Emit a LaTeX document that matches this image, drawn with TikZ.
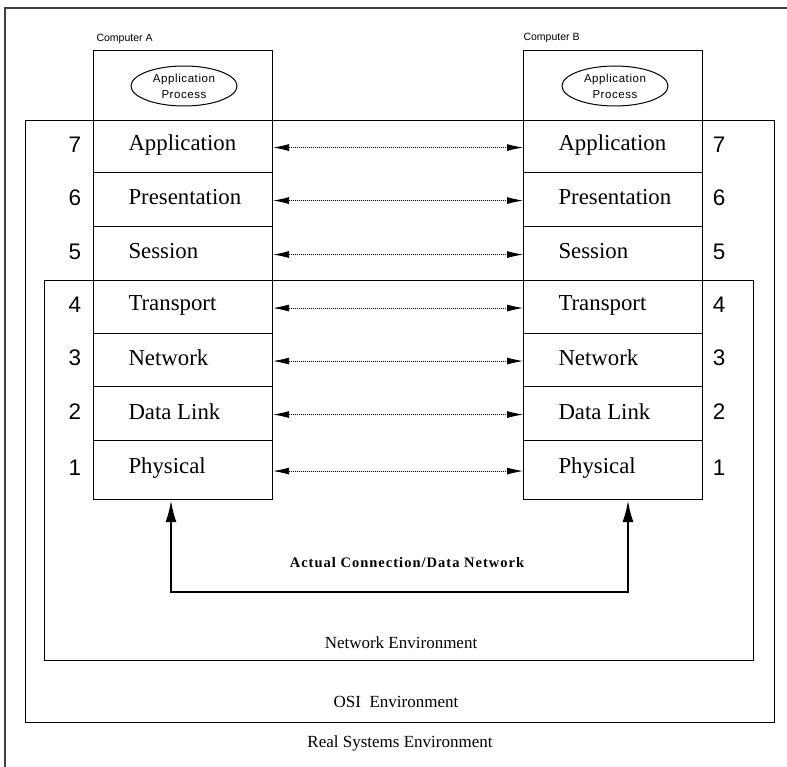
\documentclass[tikz,border=0pt]{standalone}
\usepackage{fontspec}
\setmainfont{Liberation Serif}
\newfontfamily\arialf{Liberation Sans}
\newfontfamily\arialls[LetterSpace=5]{Liberation Sans}
\newfontfamily\timesls[LetterSpace=7]{Liberation Serif}
\usetikzlibrary{arrows.meta,shapes.geometric}
\tikzset{
  frame/.style={draw, rectangle, inner sep=0pt, anchor=north west, line width=1.1pt},
  layerbox/.style={draw, rectangle, minimum width=179pt, anchor=north west, inner sep=0pt, line width=1.1pt},
  lname/.style={anchor=west, inner sep=0pt, font=\fontsize{22.8}{24}\selectfont},
  lnum/.style={inner sep=0pt, font=\arialf\fontsize{22.5}{24}\selectfont},
  dotarrow/.style={dash pattern=on 0.8pt off 1.2pt, line width=0.8pt, {Latex[length=16pt,width=7pt]}-{Latex[length=16pt,width=7pt]}},
  apbox/.style={draw, ellipse, minimum width=106pt, minimum height=40pt, inner sep=0pt, align=center, font=\arialls\fontsize{11.5}{16}\selectfont, line width=1pt},
  complabel/.style={anchor=west, inner sep=0pt, font=\arialf\fontsize{10.5}{12}\selectfont},
  envlabel/.style={inner sep=0pt, font=\fontsize{17}{19}\selectfont},
  thickarrow/.style={line width=2.4pt, {Latex[length=22pt,width=11pt]}-{Latex[length=22pt,width=11pt]}}
}
\newcommand\osilayer[5]{%
  \node[layerbox, minimum height=#3pt] (A#1) at (93,#2) {};
  \node[layerbox, minimum height=#3pt] (B#1) at (523,#2) {};
  \node[lname] (A#1t) at ([xshift=35pt,yshift=2pt]A#1.west) {#4};
  \node[lname] (B#1t) at ([xshift=35pt,yshift=2pt]B#1.west) {#4};
  \node[lnum] (nA#1) at ([xshift=-18pt,yshift=2pt]A#1.west) {#5};
  \node[lnum] (nB#1) at ([xshift=16pt,yshift=2pt]B#1.east) {#5};
  \draw[dotarrow] ([yshift=-1pt]A#1.east) -- ([yshift=-1pt]B#1.west);
}
\begin{document}
\begin{tikzpicture}[x=1pt,y=-1pt,line width=1pt]
\useasboundingbox (0,0) rectangle (787,767);
% Real systems environment (outer frame)
\coordinate (rsBL) at (5,767);
\coordinate (rsTL) at (5,8);
\coordinate (rsTR) at (787,8);
\draw[black!75, line width=1.1pt] (rsBL) -- (rsTL) -- (rsTR);
% OSI environment
\node[frame, minimum width=749pt, minimum height=602pt] (osi) at (25,120) {};
% Network environment
\node[frame, minimum width=709pt, minimum height=380pt] (net) at (44,280) {};
% Computer boxes
\node[frame, minimum width=179pt, minimum height=70pt, fill=white] (CA) at (93,50) {};
\node[frame, minimum width=179pt, minimum height=70pt, fill=white] (CB) at (523,50) {};
\node[apbox] (EA) at (184,86) {Application\\Process};
\node[apbox] (EB) at (615,86) {Application\\Process};
\node[complabel] (LA) at (96,39) {Computer A};
\node[complabel] (LB) at (523,38) {Computer B};
% Layers
\osilayer{7}{120}{52}{Application}{7}
\osilayer{6}{172}{54}{Presentation}{6}
\osilayer{5}{226}{54}{Session}{5}
\osilayer{4}{280}{53}{Transport}{4}
\osilayer{3}{333}{53}{Network}{3}
\osilayer{2}{386}{54}{Data Link}{2}
\osilayer{1}{440}{59}{Physical}{1}
% Actual connection
\coordinate (cA) at (171,592);
\coordinate (cB) at (628,592);
\draw[thickarrow] (A1.south -| cA) -- (cA) -- (cB) -- (B1.south -| cB);
\node[inner sep=0pt, font=\timesls\bfseries\fontsize{14.5}{16}\selectfont] (conn) at (407,563) {Actual Connection/Data Network};
% Environment labels
\node[envlabel] (netlab) at (401,643) {Network Environment};
\node[envlabel] (osilab) at (396,702) {OSI\ \ Environment};
\node[envlabel] (reallab) at (400,743) {Real Systems Environment};
\end{tikzpicture}
\end{document}
